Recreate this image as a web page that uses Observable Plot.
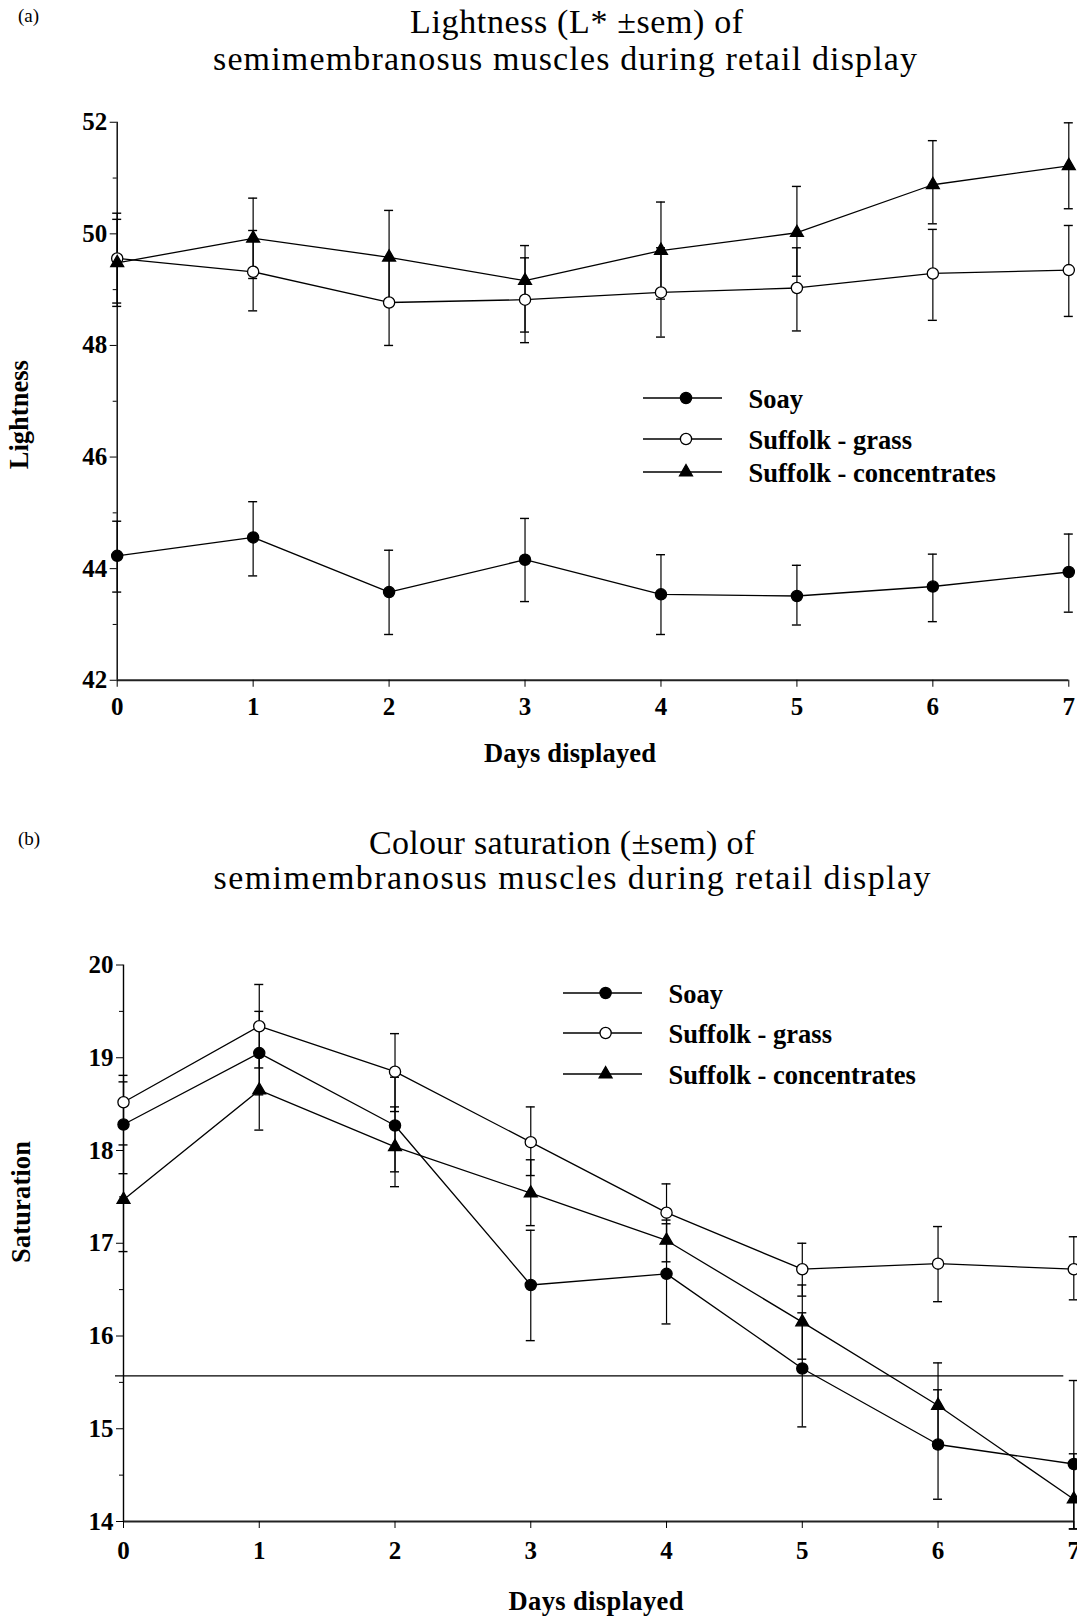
<!DOCTYPE html>
<html><head><meta charset="utf-8">
<script src="https://cdn.jsdelivr.net/npm/d3@7"></script>
<script src="https://cdn.jsdelivr.net/npm/@observablehq/plot@0.6"></script>
<style>
html,body{margin:0;padding:0;background:#fff;}
#page{position:relative;width:1077px;height:1617px;background:#fff;overflow:hidden;}
#page svg{position:absolute;left:0;}
</style></head><body><div id="page"></div>
<script>
const days = [0,1,2,3,4,5,6,7];
const series = ["Soay", "Suffolk - grass", "Suffolk - concentrates"];

// (a) Lightness (L*) mean and ±sem bar ends
const lightSoay    = [44.23, 44.56, 43.58, 44.16, 43.54, 43.51, 43.68, 43.94];
const lightSoayLo  = [43.58, 43.87, 42.82, 43.41, 42.82, 42.99, 43.05, 43.22];
const lightSoayHi  = [44.85, 45.20, 44.33, 44.90, 44.25, 44.06, 44.26, 44.62];
const lightGrass   = [49.56, 49.32, 48.77, 48.82, 48.95, 49.03, 49.29, 49.35];
const lightGrassLo = [48.76, 48.62, 48.00, 48.05, 48.15, 48.26, 48.45, 48.52];
const lightGrassHi = [50.37, 50.06, 49.54, 49.57, 49.75, 49.75, 50.08, 50.15];
const lightConc    = [49.48, 49.92, 49.58, 49.16, 49.70, 50.02, 50.88, 51.22];
const lightConcLo  = [48.70, 49.20, 48.74, 48.24, 48.83, 49.24, 50.18, 50.45];
const lightConcHi  = [50.26, 50.64, 50.42, 49.79, 50.57, 50.85, 51.67, 51.99];

// (b) Colour saturation mean and ±sem bar ends
const satSoay    = [18.28, 19.05, 18.27, 16.55, 16.67, 15.65, 14.83, 14.62];
const satSoayLo  = [17.75, 18.60, 17.77, 15.95, 16.13, 15.02, 14.24, 13.92];
const satSoayHi  = [18.81, 19.50, 18.79, 17.14, 17.21, 16.25, 15.42, 15.52];
const satGrass   = [18.52, 19.34, 18.85, 18.09, 17.33, 16.72, 16.78, 16.72];
const satGrassLo = [18.30, 18.89, 18.42, 17.73, 17.02, 16.43, 16.37, 16.39];
const satGrassHi = [18.74, 19.79, 19.26, 18.47, 17.64, 17.00, 17.18, 17.07];
const satConc    = [17.47, 18.65, 18.04, 17.54, 17.03, 16.15, 15.25, 14.24];
const satConcLo  = [16.91, 18.22, 17.61, 17.19, 16.80, 15.75, 14.79, 13.92];
const satConcHi  = [18.06, 19.08, 18.47, 17.90, 17.25, 16.55, 15.71, 14.73];

const lightMajor = [42, 44, 46, 48, 50, 52];
const lightMinor = [43, 45, 47, 49, 51];
const satMajor = [14, 15, 16, 17, 18, 19, 20];
const satMinor = [14.5, 15.5, 16.5, 17.5, 18.5, 19.5];
const satRefLine = [15.57];

const markerStyles = [
  {symbol: "circle", fill: "black", r: 5.6},
  {symbol: "circle", fill: "white", r: 5.6},
  {symbol: "triangle", fill: "black", r: 4.8}
];

function buildRows(means, los, his) {
  return series.flatMap((s, k) => days.map((d, i) => ({series: s, k, day: d, mean: means[k][i], lo: los[k][i], hi: his[k][i]})));
}
const lightRows = buildRows([lightSoay, lightGrass, lightConc], [lightSoayLo, lightGrassLo, lightConcLo], [lightSoayHi, lightGrassHi, lightConcHi]);
const satRows = buildRows([satSoay, satGrass, satConc], [satSoayLo, satGrassLo, satConcLo], [satSoayHi, satGrassHi, satConcHi]);

const FONT = "'Liberation Serif', 'Times New Roman', serif";

function makePanel(cfg) {
  const rows = cfg.rows;
  const marks = [
    Plot.ruleY(cfg.refLines, {stroke: "black", strokeWidth: 1.2, insetLeft: -8, insetRight: 10}),
    Plot.ruleX([0], {stroke: "black", strokeWidth: 1.4}),
    Plot.ruleY([cfg.yDomain[0]], {stroke: "#222", strokeWidth: 2.2}),
    Plot.axisY({ticks: cfg.yMinor, tickSize: 4, tickFormat: () => "", label: null}),
    Plot.axisY({ticks: cfg.yMajor, tickSize: 7, tickPadding: 3, tickFormat: d => String(d), fontSize: 25, fontWeight: "bold", label: null}),
    Plot.axisX({ticks: days, tickSize: 7, tickPadding: cfg.xPad, tickFormat: d => String(d), fontSize: 25, fontWeight: "bold", label: null}),
    Plot.line(rows, {x: "day", y: "mean", z: "series", stroke: "black", strokeWidth: 1.3}),
    Plot.ruleX(rows, {x: "day", y1: "lo", y2: "hi", stroke: "black", strokeWidth: 1.2}),
    Plot.ruleY(rows, {x1: "day", x2: "day", y: "hi", stroke: "black", strokeWidth: 1.4, insetLeft: -4.5, insetRight: -4.5}),
    Plot.ruleY(rows, {x1: "day", x2: "day", y: "lo", stroke: "black", strokeWidth: 1.4, insetLeft: -4.5, insetRight: -4.5}),
    ...markerStyles.map((m, k) => Plot.dot(rows.filter(r => r.k === k), {x: "day", y: "mean", symbol: m.symbol, r: m.r, fill: m.fill, stroke: "black", strokeWidth: 1.3}))
  ];
  const svg = Plot.plot({
    width: 1077, height: cfg.height,
    marginLeft: cfg.mL, marginRight: cfg.mR, marginTop: cfg.mT, marginBottom: cfg.mB,
    x: {domain: [0, 7]},
    y: {domain: cfg.yDomain},
    style: {fontFamily: FONT, fontSize: "25px", fontWeight: "bold", color: "black", background: "transparent", overflow: "visible"},
    marks
  });
  svg.style.position = "absolute";
  svg.style.top = cfg.top + "px";
  svg.style.left = "0px";
  document.getElementById("page").appendChild(svg);
}

makePanel({top: 0, height: 790, mL: 116.7, mR: 8.7, mT: 121.75, mB: 110.25,
  yDomain: [42, 52], yMajor: lightMajor, yMinor: lightMinor, rows: lightRows, refLines: [], xPad: 10});
makePanel({top: 790, height: 827, mL: 123, mR: 3.7, mT: 174.5, mB: 96,
  yDomain: [14, 20], yMajor: satMajor, yMinor: satMinor, rows: satRows, refLines: satRefLine, xPad: 13});

// Overlay: titles, axis labels, legends
const ov = d3.select("#page").append("svg")
  .attr("width", 1077).attr("height", 1617)
  .style("top", "0px").style("left", "0px")
  .style("font-family", FONT).attr("fill", "black");

function txt(x, y, s, o = {}) {
  const t = ov.append("text").attr("x", x).attr("y", y).text(s)
    .attr("font-size", o.size || 26).attr("font-weight", o.weight || "normal")
    .attr("text-anchor", o.anchor || "start");
  if (o.len) t.attr("textLength", o.len).attr("lengthAdjust", "spacing");
  if (o.rotate) t.attr("transform", `rotate(-90 ${x} ${y})`);
  return t;
}

txt(18, 22, "(a)", {size: 19});
txt(576.6, 33, "Lightness (L* \u00b1sem) of", {size: 34, anchor: "middle", len: 333});
txt(565, 70, "semimembranosus muscles during retail display", {size: 34, anchor: "middle", len: 704});
txt(28.5, 414.7, "Lightness", {size: 26.5, weight: "bold", anchor: "middle", len: 109, rotate: true});
txt(570, 762, "Days displayed", {size: 26.5, weight: "bold", anchor: "middle", len: 172});

txt(18, 845, "(b)", {size: 19});
txt(562, 854, "Colour saturation (\u00b1sem) of", {size: 34, anchor: "middle", len: 386});
txt(572, 889, "semimembranosus muscles during retail display", {size: 34, anchor: "middle", len: 717});
txt(30, 1202, "Saturation", {size: 26.5, weight: "bold", anchor: "middle", len: 122, rotate: true});
txt(596, 1609.5, "Days displayed", {size: 26.5, weight: "bold", anchor: "middle", len: 175});

function legend(rowsY, x1, x2, xm, xt) {
  series.forEach((s, k) => {
    const y = rowsY[k];
    ov.append("line").attr("x1", x1).attr("x2", x2).attr("y1", y).attr("y2", y).attr("stroke", "black").attr("stroke-width", 1.3);
    const m = markerStyles[k];
    const sym = m.symbol === "triangle" ? d3.symbolTriangle : d3.symbolCircle;
    ov.append("path").attr("d", d3.symbol(sym, Math.PI * m.r * m.r)())
      .attr("transform", `translate(${xm},${y})`)
      .attr("fill", m.fill).attr("stroke", "black").attr("stroke-width", 1.3);
    txt(xt, y + 10, s, {size: 26.5, weight: "bold"});
  });
}
legend([398, 439, 472], 643, 722, 686, 748.5);
legend([993, 1033, 1074], 563, 642, 605.6, 668.5);
</script>
</body></html>
